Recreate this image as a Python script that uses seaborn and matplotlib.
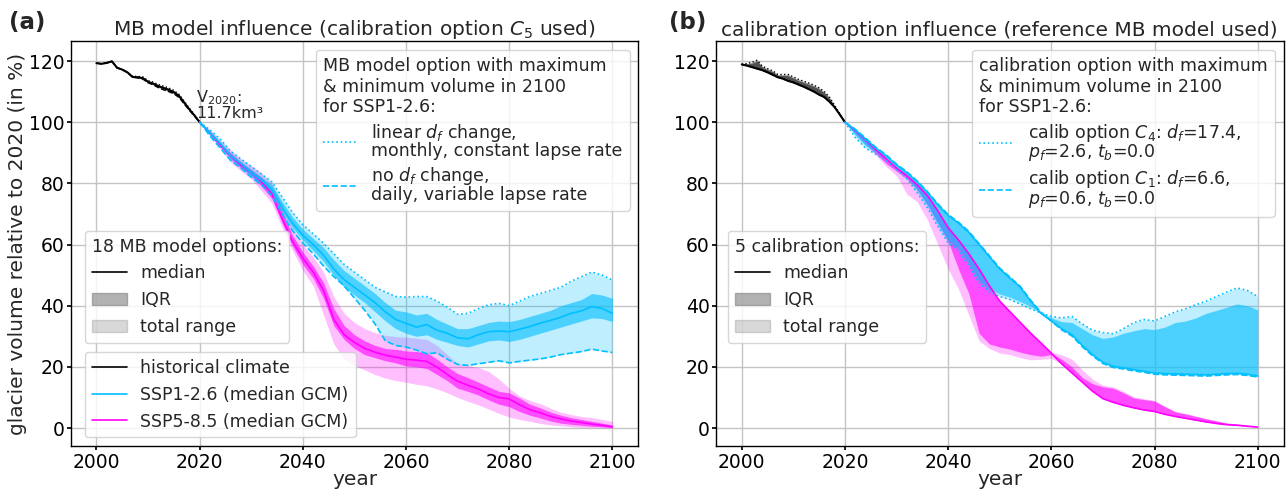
import numpy as np
import pandas as pd
import matplotlib
matplotlib.use("Agg")
import matplotlib.pyplot as plt
from matplotlib.lines import Line2D
from matplotlib.patches import Patch
import seaborn as sns

# ---------------------------------------------------------------- data
hist_years = list(range(2000, 2021))
fut_years = list(range(2020, 2101, 2))

# (a) MB model influence -- historical climate
a_hist_median = [119.3, 119.1, 119.4, 119.9, 117.8, 117.2, 116.3, 114.8, 114.7, 114.4, 113.2,
                 112.6, 111.8, 111.2, 110.6, 109.8, 108.6, 106.4, 104.2, 102.2, 100.0]
a_hist_q25 = [119.3, 119.1, 119.4, 119.9, 117.8, 117.2, 116.3, 114.7, 114.6, 114.3, 113.0,
              112.4, 111.6, 111.0, 110.3, 109.6, 108.4, 106.2, 104.1, 102.1, 100.0]
a_hist_q75 = [119.3, 119.1, 119.4, 119.9, 117.8, 117.2, 116.3, 114.9, 114.8, 114.6, 113.4,
              112.8, 112.0, 111.5, 110.9, 110.1, 108.8, 106.6, 104.4, 102.3, 100.0]
a_hist_min = [119.3, 119.1, 119.4, 119.9, 117.8, 117.2, 116.3, 114.7, 114.5, 114.1, 112.9,
              112.2, 111.3, 110.6, 110.0, 109.3, 108.1, 106.0, 103.9, 102.0, 100.0]
a_hist_max = [119.3, 119.1, 119.4, 119.9, 117.8, 117.2, 116.3, 115.0, 115.0, 114.8, 113.6,
              113.1, 112.3, 111.8, 111.2, 110.4, 109.1, 106.9, 104.6, 102.4, 100.0]

# (a) SSP1-2.6
a126_median = [100, 96.5, 93, 89, 86.5, 83.5, 81, 78, 72, 67, 63, 60, 56.5, 52, 48.5, 46, 43.5,
               41, 38, 35.5, 34.2, 33, 33.8, 32, 31, 29.5, 29.2, 30.5, 31.5, 31.7, 31.5, 32.3,
               33.2, 34.3, 35.2, 36.2, 37.5, 38.3, 39.7, 39.1, 37.5]
a126_q25 = [100, 96, 92.5, 88.5, 85.5, 82.5, 80, 77, 71, 65.5, 61.5, 58, 54.5, 50, 46, 43.5, 41,
            38, 35, 32.5, 31, 30, 30.5, 29, 28, 27, 26.5, 27.5, 28.5, 28.8, 28.3, 29, 30, 31, 32,
            33, 34, 35, 36, 35.8, 34.8]
a126_q75 = [100, 97, 93.5, 89.5, 87, 84.5, 82, 79.5, 74, 69, 65, 62, 59, 55, 51.5, 49, 46.5, 44,
            41, 38.5, 38, 37, 37.5, 35.5, 34, 32.5, 32.5, 33.5, 34.5, 35, 34.8, 35.5, 36.5, 37.5,
            38.5, 40, 41, 42, 44, 43.5, 42.4]
a126_min = [100, 95.5, 91.5, 87.5, 85, 82, 79.5, 76, 70, 64.5, 60.5, 57, 53, 49.5, 46.5, 42.5,
            38.5, 34, 28.5, 27, 26.5, 25.5, 24.3, 24.6, 22.5, 20.8, 20.5, 21, 21.5, 22, 21.3,
            21.8, 22.2, 22.6, 23.2, 24, 24.5, 25, 25.8, 25.2, 24.7]
a126_max = [100, 97.5, 94.5, 90.5, 88, 85.5, 83, 80.5, 75.5, 70.5, 66.5, 63.5, 60.5, 57, 53.5,
            51, 48.5, 46, 44.5, 43, 42.8, 43, 43, 41.5, 39.5, 37.2, 37.5, 39, 40.3, 40.8, 40,
            41.5, 43, 44, 45, 46, 48, 49.5, 51, 50, 48.4]

# (a) SSP5-8.5
a585_median = [100, 96.5, 92.5, 89, 86, 83.5, 80.5, 76.5, 68.5, 61, 55.5, 51, 45, 35.5, 30.5,
               28, 26, 24.8, 23.8, 23.2, 22.5, 22.2, 21.8, 19.9, 17.5, 15.3, 14, 12.8, 11.2, 10,
               9.5, 7.6, 6, 5, 3.8, 3, 2.3, 1.8, 1.3, 0.9, 0.4]
a585_q25 = [100, 96, 92, 88, 85, 82.5, 79, 75, 67, 59.5, 53.5, 49, 42.5, 33.5, 29, 26, 24, 23,
            22, 21.3, 20.3, 20, 19.5, 17.5, 15.5, 13, 12, 10.8, 9.2, 7.8, 7, 5.4, 4.2, 3.3, 2.3,
            1.6, 1.2, 0.9, 0.6, 0.4, 0.1]
a585_q75 = [100, 97, 93, 90, 87, 84.5, 82, 78, 71, 63, 57.5, 53, 47.5, 39, 33.5, 30.5, 28.5, 27,
            26, 25.7, 25.2, 25, 24.7, 22.5, 20, 17.8, 16.5, 15, 13.5, 12, 11.5, 9.8, 7.8, 6.6,
            5.2, 4.2, 3.4, 2.8, 2.2, 1.6, 1.0]
a585_min = [100, 95.5, 91.5, 87, 84, 81.5, 77.5, 73.5, 65.5, 58, 51.5, 46.5, 37, 27.5, 22.5,
            20.5, 19, 17.5, 16.3, 15.5, 15, 14.3, 13.8, 12.8, 11.5, 10, 8.7, 7.6, 6.2, 4.8, 3.6,
            2.8, 2.2, 1.5, 1.0, 0.7, 0.4, 0.2, 0.1, 0.05, 0]
a585_max = [100, 97.5, 94, 91, 88, 86, 83.5, 80, 73, 65.5, 60, 56, 51, 43, 37.5, 34.5, 32.5,
            31.2, 30.3, 29.9, 29.7, 29.4, 29, 27, 24, 21, 20.5, 19.8, 18.5, 16, 13, 10.5, 9, 8,
            6.5, 5.2, 4.4, 3.8, 3.4, 2.8, 2.2]

# (b) calibration option influence -- historical climate
b_hist_median = [118.9, 118.5, 118.0, 117.5, 117.0, 116.3, 115.5, 114.7, 114.2, 113.5, 113.0,
                 112.3, 111.6, 110.8, 110.0, 109.0, 108.2, 106.7, 104.9, 102.5, 100.0]
b_hist_q75 = [118.9, 119.0, 119.3, 119.9, 118.0, 117.2, 116.5, 115.3, 115.3, 115.2, 114.4,
              113.6, 113.0, 112.4, 111.7, 110.8, 109.6, 107.8, 105.2, 102.6, 100.0]
b_hist_max = [118.9, 119.2, 119.6, 120.3, 118.3, 117.5, 116.8, 115.6, 115.6, 115.6, 114.8,
              114.0, 113.4, 112.8, 112.1, 111.2, 110.0, 108.2, 105.5, 102.8, 100.0]

# (b) SSP1-2.6
b126_median = [100, 97.5, 94.5, 91.5, 89, 86, 83.5, 80.5, 77, 73, 69.5, 67, 64, 60, 56, 52, 49,
               46, 41.5, 37.5, 35, 32.5, 30.5, 27, 24, 21.5, 20.2, 19.7, 19.1, 18.6, 18, 17.8,
               17.7, 17.6, 17.5, 17.4, 17.6, 17.8, 17.9, 17.6, 17]
b126_q25 = [100, 95.8, 92.3, 90.3, 88.3, 85.3, 82.3, 77.8, 72.8, 66.8, 61.3, 58.8, 53.8, 48.3,
            45.3, 43.8, 42.8, 41.3, 39.8, 37.5, 35, 32.5, 30.5, 27, 24, 21.5, 20.2, 19.7, 19.1,
            18.6, 18, 17.8, 17.7, 17.6, 17.5, 17.4, 17.6, 17.8, 17.9, 17.6, 17]
b126_q75 = [100, 97.5, 94.5, 91.5, 89, 86, 83.5, 80.5, 77, 73, 69.5, 67, 64, 60, 56, 52, 49, 46,
            41.5, 37.5, 36, 34.8, 34.5, 32.5, 30.5, 29.3, 29.8, 31, 31.8, 32.5, 32.2, 33, 34.5,
            35, 36, 37.5, 38.5, 39.5, 40.6, 40, 38.7]
b126_c4 = [100, 95, 91.5, 89.5, 87.5, 84.5, 81.5, 77, 72, 66, 60.5, 58, 53, 47.5, 44.5, 43, 42,
           40.5, 39, 37.6, 36.5, 36, 36.5, 34, 32, 31.2, 30.8, 32.5, 34.5, 35.5, 35, 36.5, 38, 39,
           40.3, 41.5, 43, 44.5, 45.8, 45, 43]
b126_c1 = [100, 97.7, 94.8, 91.8, 89.3, 86.3, 83.8, 80.8, 77.3, 73.3, 69.8, 67.3, 64.3, 60.3,
           56.3, 52.3, 49.3, 46.3, 41.8, 37.8, 35, 32.1, 30.1, 26.6, 23.6, 21.1, 19.8, 19.3, 18.7,
           18.2, 17.6, 17.4, 17.3, 17.2, 17.1, 17, 17.2, 17.4, 17.5, 17.2, 16.7]

# (b) SSP5-8.5
b585_median = [100, 97.3, 94.3, 91, 88, 85, 82.5, 79.5, 76, 71, 65.5, 61.5, 57, 52, 46.5, 41.5,
               38, 34.5, 31, 27.8, 24.5, 21, 18, 15, 12, 9.6, 8.4, 7.4, 6.6, 5.9, 5.4, 4.5, 3.8,
               3.2, 2.6, 2, 1.5, 1.1, 0.9, 0.6, 0.3]
b585_q25 = [100, 96.5, 93, 89.7, 86.5, 84, 81.5, 78, 73, 67, 61, 52, 44, 31, 27.5, 26.5, 25.8,
            24.8, 24, 23.5, 24, 21, 18, 15, 12, 9.6, 8.4, 7.4, 6.6, 5.9, 5.4, 4.5, 3.8, 3.2, 2.6,
            2, 1.5, 1.1, 0.9, 0.6, 0.3]
b585_q75 = [100, 97.3, 94.3, 91, 88, 85, 82.5, 79.5, 76, 71, 65.5, 61.5, 57, 52, 46.5, 41.5, 38,
            34.5, 31, 27.8, 24.5, 22.5, 20, 16.5, 14.5, 13.5, 13, 11.5, 9.8, 9.3, 8.8, 7, 5.3,
            4.6, 3.8, 3, 2.3, 1.6, 1.3, 0.9, 0.4]
b585_min = [100, 96, 92.5, 89.2, 85.5, 82.5, 76.5, 74, 68, 60, 52, 45.5, 37, 28.5, 26, 24.5, 24,
            23, 22.3, 22.5, 22.8, 21, 18, 15, 12, 9.6, 8.4, 7.4, 6.6, 5.9, 5.4, 4.5, 3.8, 3.2,
            2.6, 2, 1.5, 1.1, 0.9, 0.6, 0.3]
b585_max = [100, 97.3, 94.3, 91, 88, 85, 82.5, 79.5, 76, 71, 65.5, 61.5, 57, 52, 46.5, 41.5, 38,
            34.5, 31, 27.8, 24.8, 24, 22.5, 19, 16, 14, 13.5, 12, 10.2, 9.6, 9, 7.2, 5.5, 4.8, 4,
            3.1, 2.4, 1.7, 1.4, 1, 0.5]

# ---------------------------------------------------------------- style
C126 = "deepskyblue"
C585 = "magenta"
FS = 12.5
FS_TICK = 13.5
FS_LAB = 14.5

sns.set_theme(style="whitegrid")
plt.rcParams["font.family"] = ["DejaVu Sans"]
plt.rcParams.update({
    "axes.edgecolor": "black",
    "axes.linewidth": 1.0,
    "grid.color": "#c4c4c4",
    "grid.linewidth": 1.0,
    "xtick.bottom": True,
    "ytick.left": True,
    "xtick.major.size": 3,
    "ytick.major.size": 3,
    "xtick.major.pad": 1.5,
    "ytick.major.pad": 1.5,
    "xtick.color": "black",
    "ytick.color": "black",
    "xtick.labelsize": FS_TICK,
    "ytick.labelsize": FS_TICK,
    "mathtext.default": "it",
})

fig = plt.figure(figsize=(12.87, 4.9), dpi=100)
ax_a = fig.add_axes([0.0549, 0.089, 0.441, 0.827])
ax_b = fig.add_axes([0.5563, 0.089, 0.441, 0.827])


def band(ax, x, lo, hi, color, alpha):
    ax.fill_between(x, lo, hi, color=color, alpha=alpha, linewidth=0)


def median_line(ax, x, y, color, lw):
    df = pd.DataFrame({"year": x, "volume": y})
    sns.lineplot(data=df, x="year", y="volume", ax=ax, color=color, linewidth=lw,
                 estimator=None, legend=False)


def scenario(ax, q25, q75, lo, hi, med, color):
    band(ax, fut_years, lo, hi, color, 0.25)
    band(ax, fut_years, q25, q75, color, 0.6)
    median_line(ax, fut_years, med, color, 1.2)


# ---- panel (a)
band(ax_a, hist_years, a_hist_min, a_hist_max, "black", 0.25)
band(ax_a, hist_years, a_hist_q25, a_hist_q75, "black", 0.5)
ax_a.plot(hist_years, a_hist_max, color="black", ls=":", lw=1)
ax_a.plot(hist_years, a_hist_min, color="black", ls="--", lw=1)
median_line(ax_a, hist_years, a_hist_median, "black", 1.5)
scenario(ax_a, a585_q25, a585_q75, a585_min, a585_max, a585_median, C585)
scenario(ax_a, a126_q25, a126_q75, a126_min, a126_max, a126_median, C126)
ax_a.plot(fut_years, a126_max, color=C126, ls=":", lw=1.2)
ax_a.plot(fut_years, a126_min, color=C126, ls="--", lw=1.2)

ax_a.text(2019.3, 100.3, "V$_{\\mathrm{2020}}$:\n11.7km³", fontsize=11.5, ha="left",
          va="bottom", linespacing=0.95)

# ---- panel (b)
b126_lo = np.minimum(b126_c1, b126_c4)
b126_hi = np.maximum(b126_c1, b126_c4)
band(ax_b, hist_years, b_hist_median, b_hist_max, "black", 0.3)
band(ax_b, hist_years, b_hist_median, b_hist_q75, "black", 0.55)
ax_b.plot(hist_years, b_hist_max, color="black", ls=":", lw=1)
ax_b.plot(hist_years, b_hist_median, color="black", ls="--", lw=1)
median_line(ax_b, hist_years, b_hist_median, "black", 1.5)
scenario(ax_b, b585_q25, b585_q75, b585_min, b585_max, b585_median, C585)
scenario(ax_b, b126_q25, b126_q75, b126_lo, b126_hi, b126_median, C126)
ax_b.plot(fut_years, b126_c4, color=C126, ls=":", lw=1.2)
ax_b.plot(fut_years, b126_c1, color=C126, ls="--", lw=1.2)

# ---- axes cosmetics
for ax in (ax_a, ax_b):
    ax.set_xlim(1995, 2105)
    ax.set_ylim(-6, 126.5)
    ax.set_xticks([2000, 2020, 2040, 2060, 2080, 2100])
    ax.set_yticks([0, 20, 40, 60, 80, 100, 120])
    ax.set_xlabel("year", fontsize=FS_LAB, labelpad=-1)
    ax.set_ylabel("")
    for s in ax.spines.values():
        s.set_color("black")
ax_a.set_ylabel("glacier volume relative to 2020 (in %)", fontsize=FS_LAB, labelpad=1)
ax_a.set_title("MB model influence (calibration option $C_5$ used)", fontsize=FS_LAB, pad=4)
ax_b.set_title("calibration option influence (reference MB model used)", fontsize=FS_LAB, pad=4)

fig.text(0.021, 0.955, "(a)", fontsize=16.5, fontweight="bold", ha="center", va="center")
fig.text(0.534, 0.955, "(b)", fontsize=16.5, fontweight="bold", ha="center", va="center")

# ---- legends
stat_handles = [Line2D([], [], color="black", lw=1.2),
                Patch(facecolor="grey", alpha=0.6, edgecolor="grey"),
                Patch(facecolor="grey", alpha=0.3, edgecolor="grey")]
stat_labels = ["median", "IQR", "total range"]
opt_handles = [Line2D([], [], color=C126, ls=":", lw=1.2),
               Line2D([], [], color=C126, ls="--", lw=1.2)]

leg_kw = dict(fontsize=FS, title_fontsize=FS, alignment="left", framealpha=0.8)


def tighten(leg):
    for t in leg.get_texts():
        t.set_linespacing(0.9)
    return leg


la1 = tighten(ax_a.legend(opt_handles,
                          ["linear $d_f$ change,\nmonthly, constant lapse rate",
                           "no $d_f$ change,\ndaily, variable lapse rate"],
                          title="MB model option with maximum\n& minimum volume in 2100\nfor SSP1-2.6:",
                          loc="upper right", labelspacing=0.3, **leg_kw))
ax_a.add_artist(la1)
la2 = ax_a.legend(stat_handles, stat_labels, title="18 MB model options:",
                  loc="upper left", bbox_to_anchor=(0.025, 0.532), borderaxespad=0, **leg_kw)
ax_a.add_artist(la2)
ax_a.legend([Line2D([], [], color="black", lw=1.2), Line2D([], [], color=C126, lw=1.2),
             Line2D([], [], color=C585, lw=1.2)],
            ["historical climate", "SSP1-2.6 (median GCM)", "SSP5-8.5 (median GCM)"],
            loc="lower left", bbox_to_anchor=(0.025, 0.022), borderaxespad=0, **leg_kw)

lb1 = tighten(ax_b.legend(opt_handles,
                          ["calib option $C_4$: $d_f$=17.4,\n$p_f$=2.6, $t_b$=0.0",
                           "calib option $C_1$: $d_f$=6.6,\n$p_f$=0.6, $t_b$=0.0"],
                          title="calibration option with maximum\n& minimum volume in 2100\nfor SSP1-2.6:",
                          loc="upper right", labelspacing=0.3, **leg_kw))
ax_b.add_artist(lb1)
ax_b.legend(stat_handles, stat_labels, title="5 calibration options:",
            loc="upper left", bbox_to_anchor=(0.021, 0.532), borderaxespad=0, **leg_kw)

fig.savefig("out.png", dpi=100)
